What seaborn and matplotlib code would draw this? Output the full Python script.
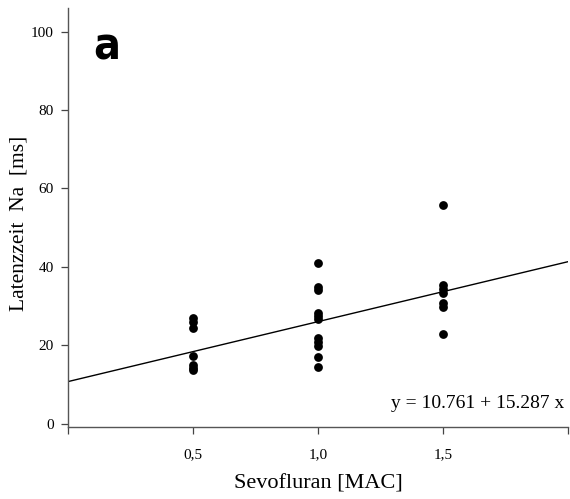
import matplotlib
matplotlib.use("Agg")
import matplotlib.pyplot as plt
import seaborn as sns
import numpy as np
import pandas as pd

# Data
dose_05 = [27.0, 26.0, 24.5, 17.3, 15.0, 14.3, 13.8]
dose_10 = [41.0, 34.8, 34.1, 28.3, 27.5, 26.6, 21.8, 20.9, 19.8, 17.1, 14.6]
dose_15 = [55.9, 35.5, 34.3, 33.3, 30.9, 29.8, 22.8]
doses = [0.5, 1.0, 1.5]
intercept = 10.761
slope = 15.287
x_ticks = [0.0, 0.5, 1.0, 1.5, 2.0]
x_ticklabels = ["", "0,5", "1,0", "1,5", ""]
y_ticks = [0, 20, 40, 60, 80, 100]

xs, ys = [], []
for d, vals in zip(doses, [dose_05, dose_10, dose_15]):
    xs += [d] * len(vals)
    ys += vals
df = pd.DataFrame({"x": xs, "y": ys})

sns.set_style("white")
plt.rcParams['font.family'] = ['Liberation Serif', 'DejaVu Serif']
plt.rcParams['text.color'] = 'black'
plt.rcParams['axes.labelcolor'] = 'black'
plt.rcParams['xtick.color'] = 'black'
plt.rcParams['ytick.color'] = 'black'

fig = plt.figure(figsize=(5.7, 4.99), dpi=100)
ax = fig.add_axes([0.119, 0.1443, 0.8775, 0.8397])

sns.scatterplot(data=df, x="x", y="y", ax=ax, color="black", s=40,
                edgecolor="black", linewidth=0, zorder=3)

line_x = np.array([0.0, 2.0])
line_df = pd.DataFrame({"x": line_x, "y": intercept + slope * line_x})
sns.lineplot(data=line_df, x="x", y="y", ax=ax, color="black", linewidth=1.0)

ax.set_xlim(0, 2.0)
ax.set_ylim(-0.8, 106)
ax.set_xticks(x_ticks)
ax.set_xticklabels(x_ticklabels, fontsize=11)
ax.set_yticks(y_ticks)
ax.set_yticklabels([str(v) for v in y_ticks], fontsize=11)
ax.tick_params(axis="both", direction="out", length=5, width=0.9, color="#444444",
               labelcolor="black", bottom=True, left=True, pad=5)
ax.tick_params(axis="x", pad=10)

for s in ["top", "right"]:
    ax.spines[s].set_visible(False)
for s in ["left", "bottom"]:
    ax.spines[s].set_color("#555555")
    ax.spines[s].set_linewidth(1.0)

ax.set_xlabel("Sevofluran [MAC]", fontsize=16, labelpad=10, color="black")
ax.set_ylabel("Latenzzeit  Na  [ms]", fontsize=15.5, color="black")
ax.yaxis.set_label_coords(-0.078, 0.485)

ax.text(0.993, 0.035, f"y = {intercept} + {slope} x", transform=ax.transAxes,
        ha="right", va="bottom", fontsize=14, color="black")
fig.text(0.188, 0.905, "a", fontsize=32, fontweight="bold", color="black",
         family=['DejaVu Sans'], stretch="condensed", ha="center", va="center")

fig.savefig("out.png", dpi=100)
